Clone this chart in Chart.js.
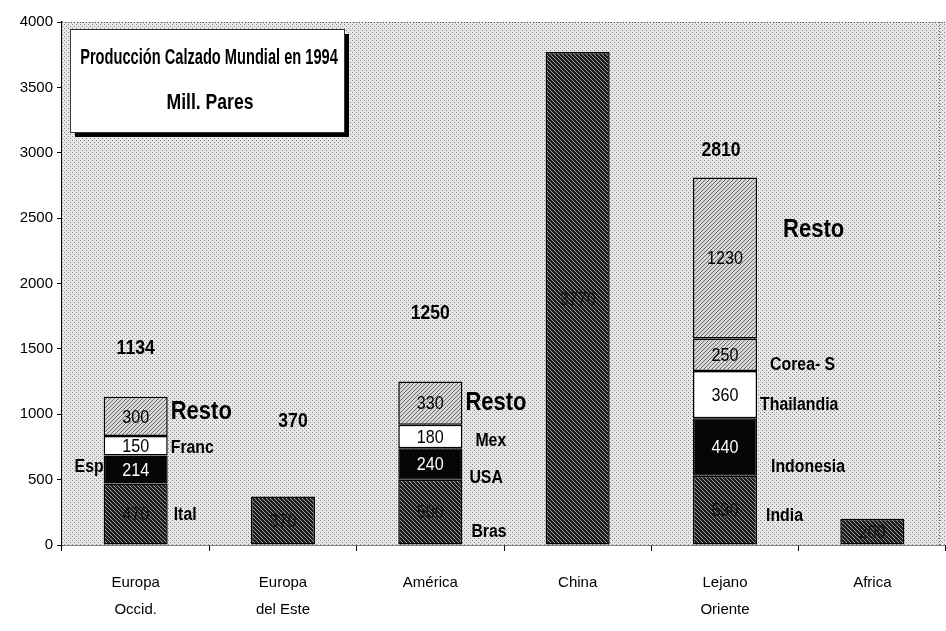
<!DOCTYPE html>
<html>
<head>
<meta charset="utf-8">
<script src="https://cdn.jsdelivr.net/npm/chart.js@4/dist/chart.umd.min.js"></script>
<style>
html, body { margin: 0; background: #fff; }
#wrap { width: 946px; height: 631px; }
</style>
</head>
<body>
<div id="wrap"><canvas id="grafico"></canvas></div>
<script>
// Millones de pares, 1994
var regiones = [['Europa', 'Occid.'], ['Europa', 'del Este'], 'América', 'China', ['Lejano', 'Oriente'], 'Africa'];
var base    = [470, 370, 500, 3770, 530, 200];      // Ital / Bras / India
var segundo = [214, null, 240, null, 440, null];    // Esp / USA / Indonesia
var tercero = [150, null, 180, null, 360, null];    // Franc / Mex / Thailandia
var cuarto  = [300, null, 330, null, 250, null];    // Resto / Corea- S
var quinto  = [null, null, null, null, 1230, null]; // Resto Lejano Oriente
var totales = ['1134', '370', '1250', null, '2810', null];
var ticksY  = [0, 500, 1000, 1500, 2000, 2500, 3000, 3500, 4000];

var FUENTE = '"Liberation Sans", Arial, sans-serif';

function patron(fondo, color, puntos) {
	var c = document.createElement('canvas');
	c.width = 4; c.height = 4;
	var x = c.getContext('2d');
	x.fillStyle = fondo;
	x.fillRect(0, 0, 4, 4);
	x.fillStyle = color;
	puntos.forEach(function(p) { x.fillRect(p[0], p[1], 1, 1); });
	return x.createPattern(c, 'repeat');
}

// texto estrechado en horizontal (letra tipo "narrow")
function texto(c, t, x, y, k) {
	c.save();
	c.translate(x, y);
	c.scale(k, 1);
	c.fillText(t, 0, 0);
	c.restore();
}

var ctx = document.getElementById('grafico').getContext('2d');
var fondoTrama = patron('#e6e6e6', '#8a8a8a', [[0, 0], [2, 2]]);
var rayado = patron('#1c1c1c', '#9c9c9c', [[0, 0], [1, 1], [2, 2], [3, 3]]);
var punteado = patron('#d8d8d8', '#6a6a6a', [[0, 0], [2, 2], [1, 3], [3, 1]]);

// etiquetas al lado de cada tramo: [dataset, barra, texto, lado, dx, dy, tamaño]
var rotulos = [
	[3, 0, 'Resto', 'der', 3, -4, 25],
	[2, 0, 'Franc', 'der', 3, 2, 18],
	[1, 0, 'Esp', 'izq', 0, -3, 18],
	[0, 0, 'Ital', 'der', 6, 1, 18],
	[3, 2, 'Resto', 'der', 3, 0, 25],
	[2, 2, 'Mex', 'der', 13, 5, 18],
	[1, 2, 'USA', 'der', 7, 14, 18],
	[0, 2, 'Bras', 'der', 9, 20, 18],
	[4, 4, 'Resto', 'der', 26, -28, 25],
	[3, 4, 'Corea- S', 'der', 13, 10, 18],
	[2, 4, 'Thailandia', 'der', 3, 10, 18],
	[1, 4, 'Indonesia', 'der', 14, 20, 18],
	[0, 4, 'India', 'der', 9, 6, 18]
];
var desplTotal = [[0, -48], [10, -75], [0, -68], null, [-4, -27], null];

var plugTrama = {
	id: 'trama',
	beforeDatasetsDraw: function(chart) {
		var a = chart.chartArea, c = chart.ctx;
		c.save();
		c.fillStyle = fondoTrama;
		c.fillRect(a.left, a.top, a.right - a.left, a.bottom - a.top);
		c.strokeStyle = '#555';
		c.setLineDash([1, 2]);
		c.beginPath();
		c.moveTo(a.left, a.top + 0.5); c.lineTo(a.right, a.top + 0.5);
		c.moveTo(a.right - 6.5, a.top); c.lineTo(a.right - 6.5, a.bottom);
		c.stroke();
		c.restore();
	}
};

var plugTextos = {
	id: 'textos',
	afterDatasetsDraw: function(chart) {
		var c = chart.ctx;
		c.save();
		c.textBaseline = 'middle';
		// valores dentro de los tramos
		chart.data.datasets.forEach(function(ds, d) {
			var meta = chart.getDatasetMeta(d);
			meta.data.forEach(function(bar, i) {
				var v = ds.data[i];
				if (v == null) return;
				c.font = '19px ' + FUENTE;
				c.textAlign = 'center';
				c.fillStyle = ds.textColor;
				texto(c, String(v), bar.x, (bar.y + bar.base) / 2 + 1, 0.85);
			});
		});
		// totales encima de las barras
		c.font = 'bold 20px ' + FUENTE;
		c.fillStyle = '#000';
		c.textAlign = 'center';
		totales.forEach(function(t, i) {
			if (!t) return;
			var tope = chart.scales.y.getPixelForValue(
				(base[i] || 0) + (segundo[i] || 0) + (tercero[i] || 0) + (cuarto[i] || 0) + (quinto[i] || 0));
			var x = chart.getDatasetMeta(0).data[i].x;
			texto(c, t, x + desplTotal[i][0], tope + desplTotal[i][1], 0.88);
		});
		// nombres de países
		rotulos.forEach(function(r) {
			var bar = chart.getDatasetMeta(r[0]).data[r[1]];
			var y = (bar.y + bar.base) / 2 + r[5];
			c.font = 'bold ' + r[6] + 'px ' + FUENTE;
			if (r[3] === 'der') {
				c.textAlign = 'left';
				texto(c, r[2], bar.x + bar.width / 2 + r[4], y, 0.88);
			} else {
				c.textAlign = 'right';
				texto(c, r[2], bar.x - bar.width / 2 + r[4], y, 0.88);
			}
		});
		// recuadro del título
		var bx = 70, by = 29, bw = 274, bh = 103;
		c.fillStyle = '#000';
		c.fillRect(bx + 5, by + 5, bw, bh);
		c.fillStyle = '#fff';
		c.fillRect(bx, by, bw, bh);
		c.strokeStyle = '#333';
		c.lineWidth = 1;
		c.setLineDash([]);
		c.strokeRect(bx + 0.5, by + 0.5, bw, bh);
		c.fillStyle = '#000';
		c.textAlign = 'center';
		c.font = 'bold 22px ' + FUENTE;
		texto(c, 'Producción Calzado Mundial en 1994', bx + bw / 2 + 2, by + 29, 0.665);
		texto(c, 'Mill. Pares', bx + bw / 2 + 3, by + 74, 0.8);
		c.restore();
	}
};

function tramo(datos, relleno, color) {
	return {
		data: datos,
		backgroundColor: relleno,
		borderColor: '#000',
		borderWidth: 1.5,
		borderSkipped: false,
		textColor: color,
		barPercentage: 0.435,
		categoryPercentage: 1
	};
}

new Chart(ctx, {
	type: 'bar',
	data: {
		labels: regiones,
		datasets: [
			tramo(base, rayado, '#111'),
			tramo(segundo, '#050505', '#fff'),
			tramo(tercero, '#fff', '#000'),
			tramo(cuarto, punteado, '#000'),
			tramo(quinto, punteado, '#000')
		]
	},
	options: {
		responsive: true,
		maintainAspectRatio: false,
		animation: false,
		layout: { padding: { top: 22, right: 0, left: 8, bottom: 0 } },
		plugins: {
			legend: { display: false },
			tooltip: { enabled: false }
		},
		scales: {
			x: {
				stacked: true,
				offset: true,
				grid: { display: true, drawOnChartArea: false, tickLength: 6, color: '#000', offset: true },
				border: { color: '#000', width: 1.5 },
				ticks: { color: '#000', font: { family: FUENTE, size: 15, lineHeight: 1.8 }, padding: 18, maxRotation: 0 },
				afterFit: function(s) { s.height = 86; }
			},
			y: {
				stacked: true,
				min: 0,
				max: 4000,
				afterBuildTicks: function(s) { s.ticks = ticksY.map(function(v) { return { value: v }; }); },
				grid: { drawOnChartArea: false, tickLength: 5, color: '#000' },
				border: { color: '#000', width: 1.5, dash: [2, 1] },
				ticks: {
					color: '#000',
					font: { family: FUENTE, size: 15 },
					padding: 4,
					callback: function(v) { return String(v); }
				},
				afterFit: function(s) { s.width = 54; }
			}
		}
	},
	plugins: [plugTrama, plugTextos]
});
</script>
</body>
</html>
